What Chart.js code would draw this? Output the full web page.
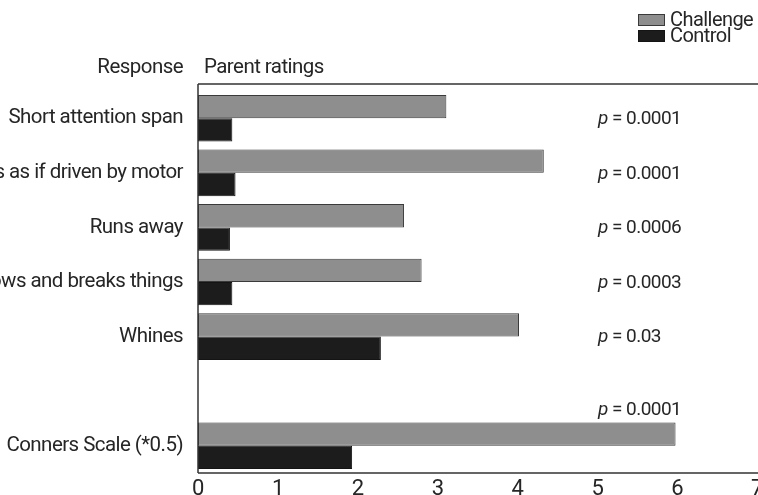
<!DOCTYPE html>
<html>
<head>
<meta charset="utf-8">
<script src="https://cdn.jsdelivr.net/npm/chart.js@4"></script>
<style>
  html, body { margin: 0; padding: 0; background: #ffffff; }
  #wrap { width: 758px; height: 495px; position: relative; overflow: hidden; }
</style>
</head>
<body>
<div id="wrap"><canvas id="chart" width="758" height="495"></canvas></div>
<script>
// Parent ratings, challenge vs. control
const categories = [
  'Short attention span',
  'Acts as if driven by motor',
  'Runs away',
  'Throws and breaks things',
  'Whines',
  '',
  'Conners Scale (*0.5)'
];
const challenge = [3.11, 4.33, 2.58, 2.80, 4.02, null, 5.98];
const control   = [0.43, 0.47, 0.40, 0.43, 2.29, null, 1.93];
const pValues   = ['0.0001', '0.0001', '0.0006', '0.0003', '0.03', null, '0.0001'];
const xTicks    = [0, 1, 2, 3, 4, 5, 6, 7];
const seriesNames = ['Challenge', 'Control'];
const headerLeft  = 'Response';
const headerRight = 'Parent ratings';

const FONT = 'Roboto, "Liberation Sans", sans-serif';
const INK = '#262626';
const TIGHT = '-0.55px';   // narrow letter spacing for the condensed look

// Tighten letter spacing for all text Chart.js draws
const tightText = {
  id: 'tightText',
  beforeDraw(chart) { chart.ctx.letterSpacing = TIGHT; },
  afterDraw(chart) { chart.ctx.letterSpacing = '0px'; }
};

// Frame lines, column headers, p-value notes and the legend box
const decorations = {
  id: 'decorations',
  afterDatasetsDraw(chart) {
    const { ctx, chartArea, scales } = chart;
    const x = scales.x;
    const frameTop = chartArea.top - 7;
    ctx.save();
    ctx.strokeStyle = '#333333';
    ctx.lineWidth = 1.5;
    ctx.beginPath();
    ctx.moveTo(chartArea.left, frameTop);
    ctx.lineTo(chart.width, frameTop);
    ctx.moveTo(chartArea.left, frameTop);
    ctx.lineTo(chartArea.left, chartArea.bottom);
    ctx.moveTo(chartArea.left, chartArea.bottom);
    ctx.lineTo(chart.width, chartArea.bottom);
    ctx.stroke();

    ctx.letterSpacing = TIGHT;
    ctx.fillStyle = INK;
    ctx.font = '20.5px ' + FONT;
    ctx.textBaseline = 'middle';
    ctx.textAlign = 'right';
    ctx.fillText(headerLeft, chartArea.left - 15, frameTop - 16);
    ctx.textAlign = 'left';
    ctx.fillText(headerRight, chartArea.left + 6, frameTop - 16);

    // p-values beside each pair of bars
    const meta = chart.getDatasetMeta(0);
    const px = x.getPixelForValue(5.01);
    pValues.forEach((p, i) => {
      if (p === null) return;
      let y = scales.y.getPixelForValue(i) + 1;
      if (i === categories.length - 1) {
        const bar = meta.data[i];
        y = bar.y - bar.height / 2 - 12;
      }
      ctx.textAlign = 'left';
      ctx.font = 'italic 19px ' + FONT;
      ctx.fillText('p', px, y);
      const w = ctx.measureText('p').width;
      ctx.font = '19px ' + FONT;
      ctx.fillText(' = ' + p, px + w, y);
    });

    // legend
    const ds = chart.data.datasets;
    const lx = 638, ly = 14, sw = 27, sh = 12, gap = 16;
    ds.forEach((d, i) => {
      const y = ly + i * gap;
      ctx.fillStyle = d.backgroundColor;
      ctx.fillRect(lx, y, sw, sh);
      ctx.strokeStyle = d.borderColor;
      ctx.lineWidth = 1;
      ctx.strokeRect(lx + 0.5, y + 0.5, sw - 1, sh - 1);
      ctx.fillStyle = INK;
      ctx.font = '20px ' + FONT;
      ctx.textAlign = 'left';
      ctx.textBaseline = 'middle';
      ctx.fillText(d.label, lx + 32, y + sh / 2 + 1);
    });
    ctx.restore();
  }
};

new Chart(document.getElementById('chart'), {
  type: 'bar',
  data: {
    labels: categories,
    datasets: [
      {
        label: seriesNames[0],
        data: challenge,
        backgroundColor: '#8e8e8e',
        borderColor: '#3a3a3a',
        borderWidth: 1,
        borderSkipped: false
      },
      {
        label: seriesNames[1],
        data: control,
        backgroundColor: '#1c1c1c',
        borderColor: '#141414',
        borderWidth: 1,
        borderSkipped: false
      }
    ]
  },
  options: {
    indexAxis: 'y',
    responsive: false,
    animation: false,
    events: [],
    layout: { padding: { top: 91, right: 1, left: 0, bottom: 0 } },
    datasets: { bar: { barPercentage: 1, categoryPercentage: 0.855 } },
    plugins: {
      legend: { display: false },
      tooltip: { enabled: false },
      title: { display: false }
    },
    scales: {
      x: {
        type: 'linear',
        position: 'bottom',
        min: 0,
        max: 7,
        afterBuildTicks(scale) { scale.ticks = xTicks.map(v => ({ value: v })); },
        afterFit(scale) {
          scale.height = 22;
          scale.paddingLeft = 0;
          scale.paddingRight = 0;
        },
        grid: { display: false, drawTicks: false },
        border: { display: false },
        ticks: {
          padding: 3,
          color: INK,
          font: { family: FONT, size: 22 },
          maxRotation: 0,
          autoSkip: false
        }
      },
      y: {
        afterFit(scale) {
          scale.width = 198;
          scale.paddingTop = 0;
          scale.paddingBottom = 0;
        },
        grid: { display: false, drawTicks: false },
        border: { display: false },
        ticks: {
          padding: 15,
          color: INK,
          font: { family: FONT, size: 20.5 },
          autoSkip: false
        }
      }
    }
  },
  plugins: [tightText, decorations]
});
</script>
</body>
</html>
